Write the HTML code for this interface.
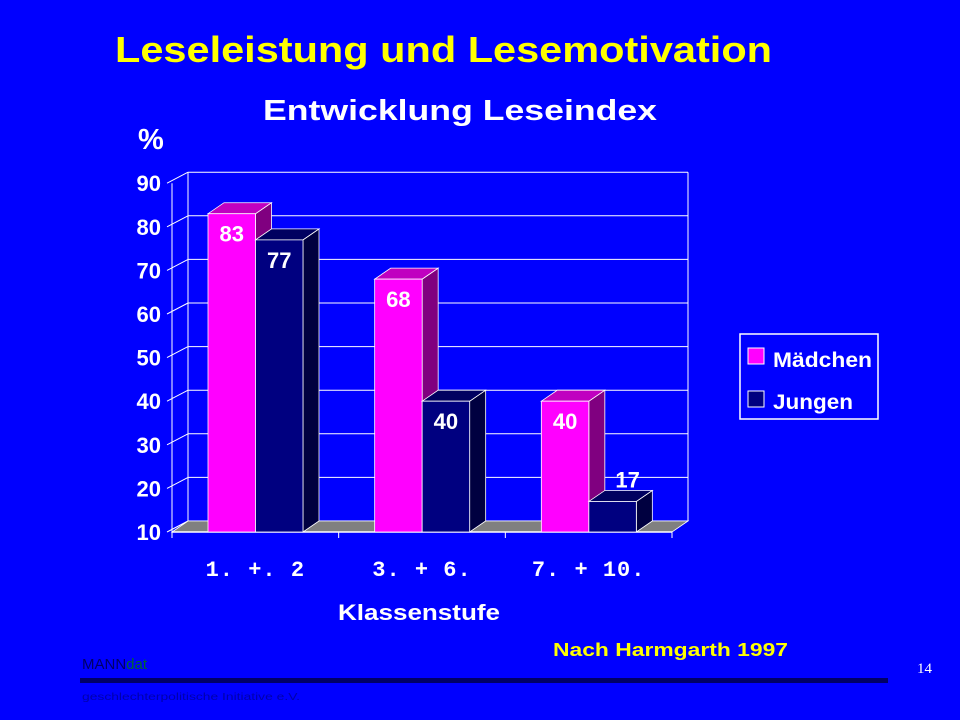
<!DOCTYPE html>
<html><head><meta charset="utf-8"><style>
body{margin:0;width:960px;height:720px;background:#0000ff;overflow:hidden;font-family:"Liberation Sans",sans-serif}
</style></head><body>
<svg width="960" height="720" style="position:absolute;left:0;top:0">
<text x="115" y="62" font-size="36" font-weight="bold" fill="#ffff00" textLength="657" lengthAdjust="spacingAndGlyphs">Leseleistung und Lesemotivation</text>
<text x="263" y="120" font-size="29" font-weight="bold" fill="#ffffff" textLength="394" lengthAdjust="spacingAndGlyphs">Entwicklung Leseindex</text>
<text x="138" y="149" font-size="29" font-weight="bold" fill="#ffffff">%</text>
<g id="plot"></g>
<text x="338" y="620" font-size="22" font-weight="bold" fill="#ffffff" textLength="162" lengthAdjust="spacingAndGlyphs">Klassenstufe</text>
<g>
<rect x="740" y="334" width="138" height="85" fill="none" stroke="#fff" stroke-width="1.5"/>
<rect x="748" y="348" width="16" height="16" fill="#ff00ff" stroke="#fff"/>
<text x="773" y="367" font-size="21" font-weight="bold" fill="#fff" textLength="99" lengthAdjust="spacingAndGlyphs">Mädchen</text>
<rect x="748" y="391" width="16" height="16" fill="#000080" stroke="#fff"/>
<text x="773" y="409" font-size="21" font-weight="bold" fill="#fff" textLength="80" lengthAdjust="spacingAndGlyphs">Jungen</text>
</g>
<text x="553" y="656" font-size="18" font-weight="bold" fill="#ffff00" textLength="235" lengthAdjust="spacingAndGlyphs">Nach Harmgarth 1997</text>
<text x="82" y="669" font-size="15" fill="#000066">MANN<tspan fill="#006633">dat</tspan></text>
<rect x="80" y="678" width="808" height="5" fill="#000066"/>
<text x="82" y="700" font-size="10" fill="#0000aa" textLength="218" lengthAdjust="spacingAndGlyphs">geschlechterpolitische Initiative e.V.</text>
<text x="932" y="673" font-size="15" fill="#fff" font-family="Liberation Serif" text-anchor="end">14</text>
</svg>
<script>
const categories=["1. +. 2","3. + 6.","7. + 10."];
const maedchen=[83,68,40];
const jungen=[77,40,17];
const yTicks=[10,20,30,40,50,60,70,80,90];
const NS="http://www.w3.org/2000/svg";
const g=document.getElementById('plot');
const X0=172,X1=672,Y10=532,PER=4.36,DX=16,DY=-11;
const y=v=>Y10-(v-10)*PER;
const catW=(X1-X0)/categories.length;
const bw=47.5;
function el(t,a,p){const e=document.createElementNS(NS,t);for(const k in a)e.setAttribute(k,a[k]);(p||g).appendChild(e);return e;}
yTicks.forEach(v=>{
 const l=el('line',{x1:X0+DX,y1:y(v)+DY,x2:X1+DX,y2:y(v)+DY,stroke:'#fff','stroke-width':1});
 
 const d=el('line',{x1:X0-5,y1:y(v),x2:X0+DX,y2:y(v)+DY,stroke:'#fff','stroke-width':1});
 
 const t=el('text',{x:X0-11,y:y(v)+8,'font-size':22,'font-weight':'bold',fill:'#fff','text-anchor':'end'});
 t.textContent=v;
});
el('line',{x1:X0+DX,y1:y(90)+DY,x2:X0+DX,y2:Y10+DY,stroke:'#fff'});
el('line',{x1:X1+DX,y1:y(90)+DY,x2:X1+DX,y2:Y10+DY,stroke:'#fff'});
const fl=el('polygon',{points:`${X0},${Y10} ${X1},${Y10} ${X1+DX},${Y10+DY} ${X0+DX},${Y10+DY}`,fill:'#808080',stroke:'#fff','stroke-width':0.8});

el('line',{x1:X0,y1:Y10,x2:X0,y2:y(90),stroke:'#fff'});
el('line',{x1:X0,y1:Y10,x2:X1,y2:Y10,stroke:'#fff','stroke-width':1.5});
function bar(x,v,front,top,side,name,label,labelAbove){
 const yt=y(v);
 const s=el('polygon',{points:`${x+bw},${Y10} ${x+bw},${yt} ${x+bw+DX},${yt+DY} ${x+bw+DX},${Y10+DY}`,fill:side,stroke:'#fff','stroke-width':0.8});
 
 const tp=el('polygon',{points:`${x},${yt} ${x+bw},${yt} ${x+bw+DX},${yt+DY} ${x+DX},${yt+DY}`,fill:top,stroke:'#fff','stroke-width':0.8});
 
 const r=el('rect',{x:x,y:yt,width:bw,height:Y10-yt,fill:front,stroke:'#fff','stroke-width':0.8});
 
 const t=el('text',{x:x+bw/2+(labelAbove?15:0),y:labelAbove?yt-14:yt+28,'font-size':22,'font-weight':'bold',fill:'#fff','text-anchor':'middle'});
 t.textContent=label;
}
categories.forEach((c,i)=>{
 const gx=X0+i*catW+36;
 bar(gx,maedchen[i],'#ff00ff','#c000c0','#800080','bar-maedchen-'+(i+1),maedchen[i],false);
 bar(gx+bw,jungen[i],'#000080','#000060','#000040','bar-jungen-'+(i+1),jungen[i],jungen[i]<25);
 const t=el('text',{x:X0+(i+0.5)*catW,y:576,'font-size':22,'font-weight':'bold',fill:'#fff','text-anchor':'middle','font-family':'Liberation Mono','letter-spacing':'1'});
 t.textContent=c;
});
for(let i=0;i<=categories.length;i++){const tk=el('line',{x1:X0+i*catW,y1:Y10,x2:X0+i*catW,y2:Y10+6,stroke:'#fff'});}
</script>
</body></html>
